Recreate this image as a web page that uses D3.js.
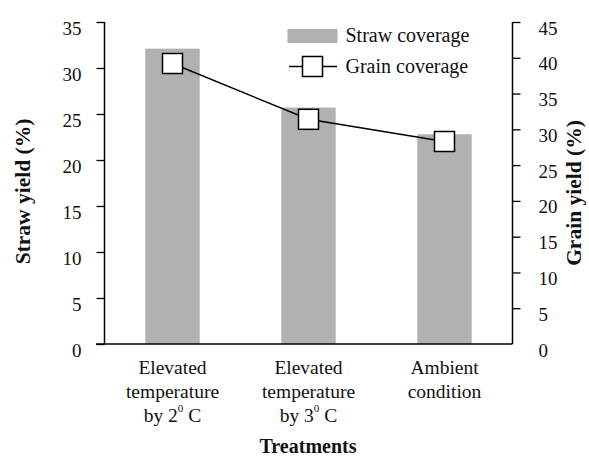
<!DOCTYPE html>
<html><head><meta charset="utf-8">
<script src="https://cdn.jsdelivr.net/npm/d3@7"></script>
<style>body{margin:0;background:#fff}svg{display:block}</style>
</head><body><div id="chart"></div>
<script>
const categories = ["c1", "c2", "c3"];
const categoryLines = [
  ["Elevated", "temperature", ["by 2", "0", " C"]],
  ["Elevated", "temperature", ["by 3", "0", " C"]],
  ["Ambient", "condition"]
];
const strawValues = [32.1, 25.7, 22.8];
const grainValues = [39.2, 31.4, 28.3];
const leftTicks = [0, 5, 10, 15, 20, 25, 30, 35];
const rightTicks = [0, 5, 10, 15, 20, 25, 30, 35, 40, 45];
const seriesNames = ["Straw coverage", "Grain coverage"];

const FONT = "Liberation Serif";
const W = 589, H = 459;
const svg = d3.select("#chart").append("svg").attr("width", W).attr("height", H)
  .attr("font-family", FONT);
const x0 = 104.5, x1 = 512.5, yTop = 22, yBot = 344;

const x = d3.scaleBand().domain(categories).range([x0, x1]).paddingInner(0.6).paddingOuter(0.3);
const yL = d3.scaleLinear().domain([0, 35]).range([yBot, yTop]);
const yR = d3.scaleLinear().domain([0, 45]).range([yBot, yTop]);

function txt(sel) { return sel.attr("font-family", FONT); }

// bars
svg.selectAll("rect.bar").data(strawValues).join("rect")
  .attr("class", "bar")
  .attr("x", (d, i) => x(categories[i]))
  .attr("width", x.bandwidth())
  .attr("y", d => yL(d))
  .attr("height", d => yBot - yL(d))
  .attr("fill", "#b1b1b1");

// left axis
const gL = svg.append("g").attr("transform", `translate(${x0},0)`)
  .call(d3.axisLeft(yL).tickValues(leftTicks).tickSize(8).tickPadding(15).tickFormat(d3.format("d")));
gL.attr("font-family", FONT).attr("font-size", 19);
gL.select(".domain").attr("d", `M0,${yTop}V${yBot}`).attr("stroke", "#000").attr("stroke-width", 1.5);
gL.selectAll(".tick line").attr("stroke", "#000").attr("stroke-width", 1.3);
txt(gL.selectAll(".tick text")).attr("font-size", 19).attr("fill", "#111").attr("dy", 12);

// right axis
const gR = svg.append("g").attr("transform", `translate(${x1},0)`)
  .call(d3.axisRight(yR).tickValues(rightTicks).tickSize(8).tickPadding(18).tickFormat(d3.format("d")));
gR.attr("font-family", FONT).attr("font-size", 19);
gR.select(".domain").attr("d", `M0,${yTop}V${yBot}`).attr("stroke", "#000").attr("stroke-width", 1.5);
gR.selectAll(".tick line").attr("stroke", "#000").attr("stroke-width", 1.3)
  .filter(d => d === 0).remove();
txt(gR.selectAll(".tick text")).attr("font-size", 19).attr("fill", "#111").attr("dy", 12);

// x baseline
svg.append("line").attr("x1", x0 - 8.5).attr("x2", x1).attr("y1", yBot).attr("y2", yBot)
  .attr("stroke", "#000").attr("stroke-width", 1.5);

// category labels
categoryLines.forEach((lines, i) => {
  const cx = x(categories[i]) + x.bandwidth() / 2;
  lines.forEach((ln, j) => {
    const t = txt(svg.append("text")).attr("x", cx).attr("y", 374 + j * 24)
      .attr("text-anchor", "middle").attr("font-size", 19.5).attr("fill", "#111");
    if (Array.isArray(ln)) {
      t.append("tspan").text(ln[0]);
      t.append("tspan").attr("font-size", 11).attr("dy", -10).text(ln[1]);
      t.append("tspan").attr("dy", 10).text(ln[2]);
    } else t.text(ln);
  });
});

// axis titles
txt(svg.append("text")).attr("x", 308).attr("y", 453).attr("text-anchor", "middle")
  .attr("font-size", 20).attr("font-weight", "bold").attr("fill", "#111").text("Treatments");
txt(svg.append("text")).attr("transform", "translate(30,191.5) rotate(-90)").attr("text-anchor", "middle")
  .attr("font-size", 21.5).attr("font-weight", "bold").attr("fill", "#111").text("Straw yield (%)");
txt(svg.append("text")).attr("transform", "translate(581,193) rotate(-90)").attr("text-anchor", "middle")
  .attr("font-size", 21.5).attr("font-weight", "bold").attr("fill", "#111").text("Grain yield (%)");

// grain line
const line = d3.line().x((d, i) => x(categories[i]) + x.bandwidth() / 2).y(d => yR(d));
svg.append("path").datum(grainValues).attr("d", line).attr("fill", "none")
  .attr("stroke", "#000").attr("stroke-width", 1.5);
const ms = 20;
svg.selectAll("rect.mk").data(grainValues).join("rect").attr("class", "mk")
  .attr("x", (d, i) => x(categories[i]) + x.bandwidth() / 2 - ms / 2)
  .attr("y", d => yR(d) - ms / 2)
  .attr("width", ms).attr("height", ms)
  .attr("fill", "#fff").attr("stroke", "#000").attr("stroke-width", 1.5);

// legend
const lg = svg.append("g");
lg.append("rect").attr("x", 287.5).attr("y", 29).attr("width", 50).attr("height", 14).attr("fill", "#b1b1b1");
txt(lg.append("text")).attr("x", 345.5).attr("y", 42).attr("font-size", 20).attr("fill", "#111").text(seriesNames[0]);
lg.append("line").attr("x1", 289).attr("x2", 337).attr("y1", 66.5).attr("y2", 66.5).attr("stroke", "#000").attr("stroke-width", 1.5);
lg.append("rect").attr("x", 302.5).attr("y", 56.5).attr("width", ms).attr("height", ms)
  .attr("fill", "#fff").attr("stroke", "#000").attr("stroke-width", 1.5);
txt(lg.append("text")).attr("x", 345.5).attr("y", 73).attr("font-size", 20).attr("fill", "#111").text(seriesNames[1]);
</script></body></html>
